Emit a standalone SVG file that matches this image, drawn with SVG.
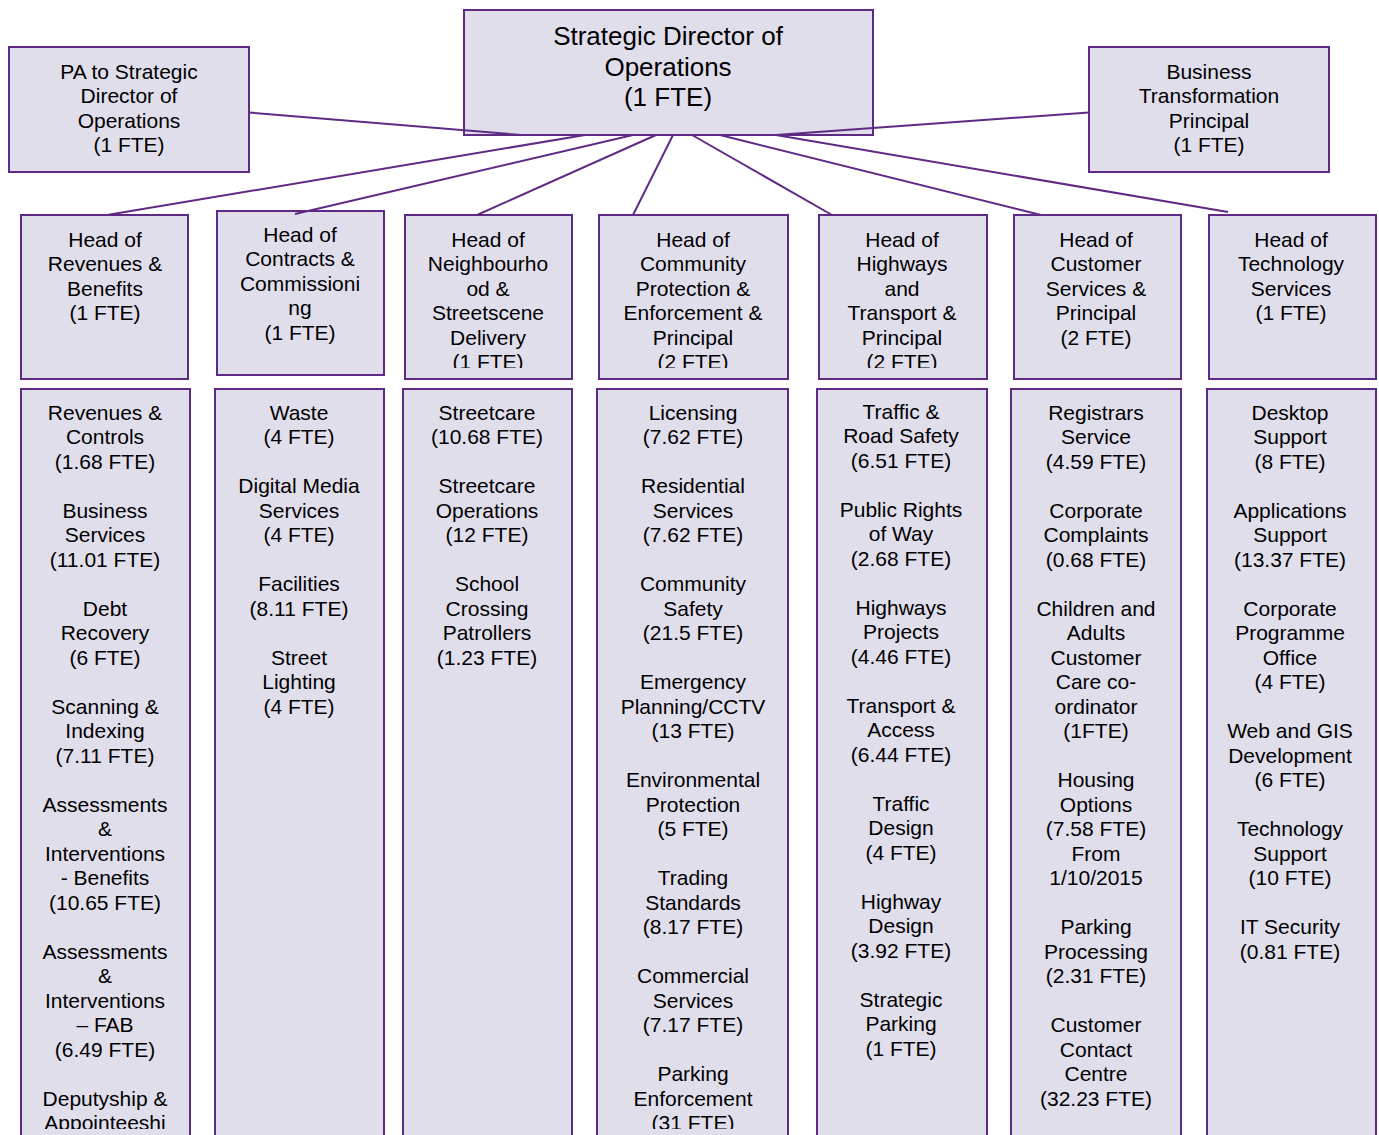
<svg xmlns="http://www.w3.org/2000/svg" width="1379" height="1135" viewBox="0 0 1379 1135">
<style>
.box{fill:#E1DEEC;stroke:#5F2A84;stroke-width:2}
.conn line{stroke:#5F2A84;stroke-width:2}
text{font-family:"Liberation Sans",Arial,sans-serif;font-size:21px;fill:#000;text-anchor:middle}
.big{font-size:26px}
.tt{clip-path:url(#bc)}
</style>
<defs>
<clipPath id="hc"><rect x="0" y="200" width="1379" height="168"/></clipPath>
<clipPath id="bc"><rect x="0" y="390" width="1379" height="739"/></clipPath>
</defs>
<rect width="1379" height="1135" fill="#fff"/>

<g id="director">
<rect class="box" x="464" y="10" width="409" height="125"/>
<text class="big"><tspan x="668" y="45">Strategic Director of</tspan><tspan x="668" dy="30.5">Operations</tspan><tspan x="668" dy="30.5">(1 FTE)</tspan></text>
</g>
<g id="pa">
<rect class="box" x="9" y="47" width="240" height="125"/>
<text><tspan x="129" y="78.5">PA to Strategic</tspan><tspan x="129" dy="24.5">Director of</tspan><tspan x="129" dy="24.5">Operations</tspan><tspan x="129" dy="24.5">(1 FTE)</tspan></text>
</g>
<g id="bt">
<rect class="box" x="1089" y="47" width="240" height="125"/>
<text><tspan x="1209" y="78.5">Business</tspan><tspan x="1209" dy="24.5">Transformation</tspan><tspan x="1209" dy="24.5">Principal</tspan><tspan x="1209" dy="24.5">(1 FTE)</tspan></text>
</g>

<g id="head-revenues">
<rect class="box" x="21" y="215" width="167" height="164"/>
<text clip-path="url(#hc)"><tspan x="105" y="246.5">Head of</tspan><tspan x="105" dy="24.5">Revenues &amp;</tspan><tspan x="105" dy="24.5">Benefits</tspan><tspan x="105" dy="24.5">(1 FTE)</tspan></text>
</g>
<g id="head-contracts">
<rect class="box" x="217" y="211" width="167" height="164"/>
<text clip-path="url(#hc)"><tspan x="300" y="241.5">Head of</tspan><tspan x="300" dy="24.5">Contracts &amp;</tspan><tspan x="300" dy="24.5">Commissioni</tspan><tspan x="300" dy="24.5">ng</tspan><tspan x="300" dy="24.5">(1 FTE)</tspan></text>
</g>
<g id="head-neighbourhood">
<rect class="box" x="405" y="215" width="167" height="164"/>
<text clip-path="url(#hc)"><tspan x="488" y="246.5">Head of</tspan><tspan x="488" dy="24.5">Neighbourho</tspan><tspan x="488" dy="24.5">od &amp;</tspan><tspan x="488" dy="24.5">Streetscene</tspan><tspan x="488" dy="24.5">Delivery</tspan><tspan x="488" dy="24.5">(1 FTE)</tspan></text>
</g>
<g id="head-community">
<rect class="box" x="599" y="215" width="189" height="164"/>
<text clip-path="url(#hc)"><tspan x="693" y="246.5">Head of</tspan><tspan x="693" dy="24.5">Community</tspan><tspan x="693" dy="24.5">Protection &amp;</tspan><tspan x="693" dy="24.5">Enforcement &amp;</tspan><tspan x="693" dy="24.5">Principal</tspan><tspan x="693" dy="24.5">(2 FTE)</tspan></text>
</g>
<g id="head-highways">
<rect class="box" x="819" y="215" width="168" height="164"/>
<text clip-path="url(#hc)"><tspan x="902" y="246.5">Head of</tspan><tspan x="902" dy="24.5">Highways</tspan><tspan x="902" dy="24.5">and</tspan><tspan x="902" dy="24.5">Transport &amp;</tspan><tspan x="902" dy="24.5">Principal</tspan><tspan x="902" dy="24.5">(2 FTE)</tspan></text>
</g>
<g id="head-customer">
<rect class="box" x="1014" y="215" width="167" height="164"/>
<text clip-path="url(#hc)"><tspan x="1096" y="246.5">Head of</tspan><tspan x="1096" dy="24.5">Customer</tspan><tspan x="1096" dy="24.5">Services &amp;</tspan><tspan x="1096" dy="24.5">Principal</tspan><tspan x="1096" dy="24.5">(2 FTE)</tspan></text>
</g>
<g id="head-technology">
<rect class="box" x="1209" y="215" width="167" height="164"/>
<text clip-path="url(#hc)"><tspan x="1291" y="246.5">Head of</tspan><tspan x="1291" dy="24.5">Technology</tspan><tspan x="1291" dy="24.5">Services</tspan><tspan x="1291" dy="24.5">(1 FTE)</tspan></text>
</g>

<g id="teams-revenues">
<rect class="box" x="21" y="389" width="169" height="780"/>
<text class="tt"><tspan x="105" y="419.5">Revenues &amp;</tspan><tspan x="105" dy="24.5">Controls</tspan><tspan x="105" dy="24.5">(1.68 FTE)</tspan><tspan x="105" dy="49">Business</tspan><tspan x="105" dy="24.5">Services</tspan><tspan x="105" dy="24.5">(11.01 FTE)</tspan><tspan x="105" dy="49">Debt</tspan><tspan x="105" dy="24.5">Recovery</tspan><tspan x="105" dy="24.5">(6 FTE)</tspan><tspan x="105" dy="49">Scanning &amp;</tspan><tspan x="105" dy="24.5">Indexing</tspan><tspan x="105" dy="24.5">(7.11 FTE)</tspan><tspan x="105" dy="49">Assessments</tspan><tspan x="105" dy="24.5">&amp;</tspan><tspan x="105" dy="24.5">Interventions</tspan><tspan x="105" dy="24.5">- Benefits</tspan><tspan x="105" dy="24.5">(10.65 FTE)</tspan><tspan x="105" dy="49">Assessments</tspan><tspan x="105" dy="24.5">&amp;</tspan><tspan x="105" dy="24.5">Interventions</tspan><tspan x="105" dy="24.5">– FAB</tspan><tspan x="105" dy="24.5">(6.49 FTE)</tspan><tspan x="105" dy="49">Deputyship &amp;</tspan><tspan x="105" dy="24.5">Appointeeshi</tspan></text>
</g>
<g id="teams-contracts">
<rect class="box" x="215" y="389" width="169" height="780"/>
<text class="tt"><tspan x="299" y="419.5">Waste</tspan><tspan x="299" dy="24.5">(4 FTE)</tspan><tspan x="299" dy="49">Digital Media</tspan><tspan x="299" dy="24.5">Services</tspan><tspan x="299" dy="24.5">(4 FTE)</tspan><tspan x="299" dy="49">Facilities</tspan><tspan x="299" dy="24.5">(8.11 FTE)</tspan><tspan x="299" dy="49">Street</tspan><tspan x="299" dy="24.5">Lighting</tspan><tspan x="299" dy="24.5">(4 FTE)</tspan></text>
</g>
<g id="teams-neighbourhood">
<rect class="box" x="403" y="389" width="169" height="780"/>
<text class="tt"><tspan x="487" y="419.5">Streetcare</tspan><tspan x="487" dy="24.5">(10.68 FTE)</tspan><tspan x="487" dy="49">Streetcare</tspan><tspan x="487" dy="24.5">Operations</tspan><tspan x="487" dy="24.5">(12 FTE)</tspan><tspan x="487" dy="49">School</tspan><tspan x="487" dy="24.5">Crossing</tspan><tspan x="487" dy="24.5">Patrollers</tspan><tspan x="487" dy="24.5">(1.23 FTE)</tspan></text>
</g>
<g id="teams-community">
<rect class="box" x="597" y="389" width="191" height="780"/>
<text class="tt"><tspan x="693" y="419.5">Licensing</tspan><tspan x="693" dy="24.5">(7.62 FTE)</tspan><tspan x="693" dy="49">Residential</tspan><tspan x="693" dy="24.5">Services</tspan><tspan x="693" dy="24.5">(7.62 FTE)</tspan><tspan x="693" dy="49">Community</tspan><tspan x="693" dy="24.5">Safety</tspan><tspan x="693" dy="24.5">(21.5 FTE)</tspan><tspan x="693" dy="49">Emergency</tspan><tspan x="693" dy="24.5">Planning/CCTV</tspan><tspan x="693" dy="24.5">(13 FTE)</tspan><tspan x="693" dy="49">Environmental</tspan><tspan x="693" dy="24.5">Protection</tspan><tspan x="693" dy="24.5">(5 FTE)</tspan><tspan x="693" dy="49">Trading</tspan><tspan x="693" dy="24.5">Standards</tspan><tspan x="693" dy="24.5">(8.17 FTE)</tspan><tspan x="693" dy="49">Commercial</tspan><tspan x="693" dy="24.5">Services</tspan><tspan x="693" dy="24.5">(7.17 FTE)</tspan><tspan x="693" dy="49">Parking</tspan><tspan x="693" dy="24.5">Enforcement</tspan><tspan x="693" dy="24.5">(31 FTE)</tspan></text>
</g>
<g id="teams-highways">
<rect class="box" x="817" y="389" width="170" height="780"/>
<text class="tt"><tspan x="901" y="418.5">Traffic &amp;</tspan><tspan x="901" dy="24.5">Road Safety</tspan><tspan x="901" dy="24.5">(6.51 FTE)</tspan><tspan x="901" dy="49">Public Rights</tspan><tspan x="901" dy="24.5">of Way</tspan><tspan x="901" dy="24.5">(2.68 FTE)</tspan><tspan x="901" dy="49">Highways</tspan><tspan x="901" dy="24.5">Projects</tspan><tspan x="901" dy="24.5">(4.46 FTE)</tspan><tspan x="901" dy="49">Transport &amp;</tspan><tspan x="901" dy="24.5">Access</tspan><tspan x="901" dy="24.5">(6.44 FTE)</tspan><tspan x="901" dy="49">Traffic</tspan><tspan x="901" dy="24.5">Design</tspan><tspan x="901" dy="24.5">(4 FTE)</tspan><tspan x="901" dy="49">Highway</tspan><tspan x="901" dy="24.5">Design</tspan><tspan x="901" dy="24.5">(3.92 FTE)</tspan><tspan x="901" dy="49">Strategic</tspan><tspan x="901" dy="24.5">Parking</tspan><tspan x="901" dy="24.5">(1 FTE)</tspan></text>
</g>
<g id="teams-customer">
<rect class="box" x="1011" y="389" width="170" height="780"/>
<text class="tt"><tspan x="1096" y="419.5">Registrars</tspan><tspan x="1096" dy="24.5">Service</tspan><tspan x="1096" dy="24.5">(4.59 FTE)</tspan><tspan x="1096" dy="49">Corporate</tspan><tspan x="1096" dy="24.5">Complaints</tspan><tspan x="1096" dy="24.5">(0.68 FTE)</tspan><tspan x="1096" dy="49">Children and</tspan><tspan x="1096" dy="24.5">Adults</tspan><tspan x="1096" dy="24.5">Customer</tspan><tspan x="1096" dy="24.5">Care co-</tspan><tspan x="1096" dy="24.5">ordinator</tspan><tspan x="1096" dy="24.5">(1FTE)</tspan><tspan x="1096" dy="49">Housing</tspan><tspan x="1096" dy="24.5">Options</tspan><tspan x="1096" dy="24.5">(7.58 FTE)</tspan><tspan x="1096" dy="24.5">From</tspan><tspan x="1096" dy="24.5">1/10/2015</tspan><tspan x="1096" dy="49">Parking</tspan><tspan x="1096" dy="24.5">Processing</tspan><tspan x="1096" dy="24.5">(2.31 FTE)</tspan><tspan x="1096" dy="49">Customer</tspan><tspan x="1096" dy="24.5">Contact</tspan><tspan x="1096" dy="24.5">Centre</tspan><tspan x="1096" dy="24.5">(32.23 FTE)</tspan></text>
</g>
<g id="teams-technology">
<rect class="box" x="1207" y="389" width="169" height="780"/>
<text class="tt"><tspan x="1290" y="419.5">Desktop</tspan><tspan x="1290" dy="24.5">Support</tspan><tspan x="1290" dy="24.5">(8 FTE)</tspan><tspan x="1290" dy="49">Applications</tspan><tspan x="1290" dy="24.5">Support</tspan><tspan x="1290" dy="24.5">(13.37 FTE)</tspan><tspan x="1290" dy="49">Corporate</tspan><tspan x="1290" dy="24.5">Programme</tspan><tspan x="1290" dy="24.5">Office</tspan><tspan x="1290" dy="24.5">(4 FTE)</tspan><tspan x="1290" dy="49">Web and GIS</tspan><tspan x="1290" dy="24.5">Development</tspan><tspan x="1290" dy="24.5">(6 FTE)</tspan><tspan x="1290" dy="49">Technology</tspan><tspan x="1290" dy="24.5">Support</tspan><tspan x="1290" dy="24.5">(10 FTE)</tspan><tspan x="1290" dy="49">IT Security</tspan><tspan x="1290" dy="24.5">(0.81 FTE)</tspan></text>
</g>

<g id="connectors" class="conn">
<line x1="249" y1="112.5" x2="521" y2="135"/>
<line x1="1089" y1="112.5" x2="776" y2="135"/>
<line x1="585" y1="135" x2="107" y2="215"/>
<line x1="633" y1="135" x2="295" y2="214"/>
<line x1="656" y1="135" x2="477" y2="215"/>
<line x1="673" y1="135" x2="633" y2="215"/>
<line x1="692" y1="135" x2="832" y2="215"/>
<line x1="720" y1="135" x2="1041" y2="215"/>
<line x1="776" y1="135" x2="1228" y2="212"/>
</g>
</svg>
